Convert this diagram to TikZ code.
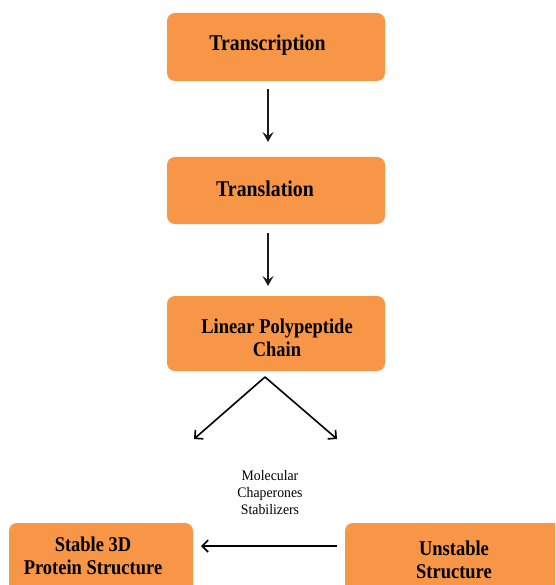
\documentclass[tikz,border=0pt]{standalone}
\usepackage{fontspec}
\setmainfont{Liberation Serif}
\newfontfamily\boxfont[FakeStretch=0.88]{Liberation Serif}
\newfontfamily\notefont[FakeStretch=0.95]{Liberation Serif}
\usetikzlibrary{arrows.meta}
\definecolor{boxorange}{HTML}{F79646}
\definecolor{arrowgray}{HTML}{1A1A1A}
\tikzset{
  stagebox/.style={fill=boxorange, draw=none, rounded corners=8pt},
  bigtext/.style={font=\boxfont\bfseries\fontsize{22.5}{23}\selectfont, align=center, inner sep=0pt},
  midtext/.style={font=\boxfont\bfseries\fontsize{21}{23}\selectfont, align=center, inner sep=0pt},
  notetext/.style={font=\notefont\fontsize{14.5}{17}\selectfont, align=center, inner sep=0pt},
  downarrow/.style={draw=arrowgray, line width=2pt, -{Stealth[length=10pt,width=11pt,inset=4pt]}},
  barbarrow/.style={draw=black, line width=1.6pt, -{Straight Barb[length=6pt,width=12pt]}}
}
\begin{document}
\begin{tikzpicture}[x=1pt,y=-1pt]
  \useasboundingbox (0,0) rectangle (555,585);
  \clip (0,0) rectangle (555,585);

  % boxes
  \path[stagebox] (167,13) rectangle (385,81);
  \path[stagebox] (167,157) rectangle (385,224);
  \path[stagebox] (167,296) rectangle (385,371);
  \path[stagebox] (9,523) rectangle (193,600);
  \path[stagebox] (345,523) rectangle (575,600);

  % labels
  \node[bigtext] (transcription) at (267.5,45) {Transcription};
  \node[bigtext] (translation) at (265,189) {Translation};
  \node[midtext] (chain) at (277,337.5) {Linear Polypeptide\\Chain};
  \node[midtext] (stable) at (93,556) {Stable 3D\\Protein Structure};
  \node[midtext] (unstable) at (454,559.5) {Unstable\\Structure};
  \node[notetext] (note) at (270,493) {Molecular\\Chaperones\\Stabilizers};

  % connector anchor points
  \coordinate (t1) at (268,89);
  \coordinate (t2) at (268,142);
  \coordinate (t3) at (268,233);
  \coordinate (t4) at (268,286);
  \coordinate (apex) at (265,377);
  \coordinate (left) at (194,439);
  \coordinate (right) at (337,439);
  \coordinate (ustart) at (337,546);
  \coordinate (uend) at (201,546);

  % connectors
  \draw[downarrow] (t1) -- (t2);
  \draw[downarrow] (t3) -- (t4);
  \draw[barbarrow] (apex) -- (left);
  \draw[barbarrow] (apex) -- (right);
  \draw[barbarrow] (ustart) -- (uend);
\end{tikzpicture}
\end{document}
